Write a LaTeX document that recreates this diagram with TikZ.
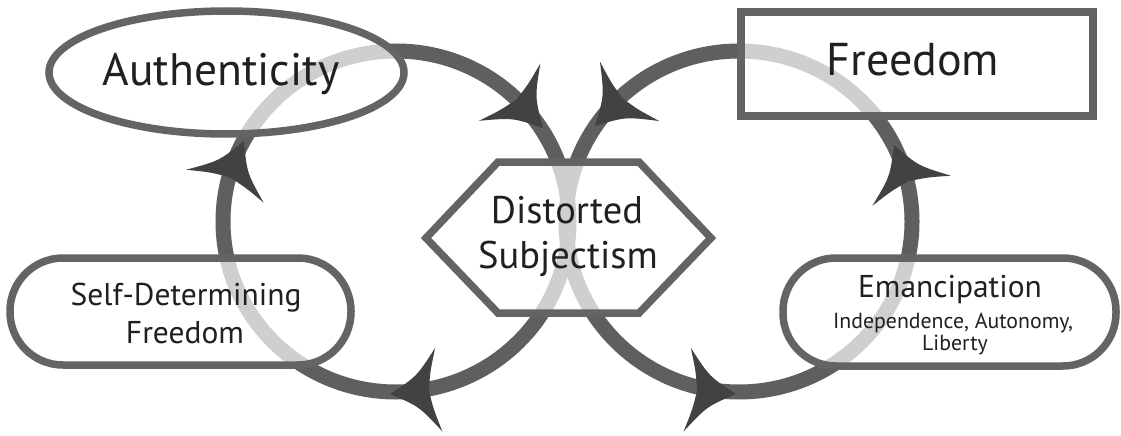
\documentclass[tikz,border=0pt]{standalone}
\usepackage{fontspec}
\setmainfont{PT Sans}
\usetikzlibrary{shapes.geometric}
\definecolor{circc}{RGB}{95,95,95}
\definecolor{arrowc}{RGB}{66,66,66}
\definecolor{borderc}{RGB}{100,100,100}
\definecolor{textc}{RGB}{35,31,32}
\newcommand\ahd[3]{\fill[arrowc, shift={(#1,#2)}, rotate=#3] (0,0) .. controls (-28,15) .. (-49,42) .. controls (-42,19) .. (-39,0) .. controls (-42,-19) .. (-49,-42) .. controls (-28,-15) .. (0,0) -- cycle;}
\begin{document}
\begin{tikzpicture}[x=1pt,y=-1pt,
  circ/.style={draw=circc, line width=15pt},
  nodebox/.style={draw=borderc, line width=7.5pt, fill=white, fill opacity=0.7, draw opacity=1, inner sep=0pt},
  txt/.style={text=textc, anchor=base, inner sep=0pt}]
\useasboundingbox[fill=white] (0,0) rectangle (1121,436);
% cycles
\draw[circ] (396,221.5) ellipse [x radius=173, y radius=170.5];
\draw[circ] (739,221.5) ellipse [x radius=173, y radius=170.5];
% arrowheads
\ahd{543}{128}{-47}
\ahd{244}{141}{67}
\ahd{390}{394}{-175}
\ahd{595}{126}{-135}
\ahd{894}{145}{111}
\ahd{736}{394}{-5}
% shapes
\node[nodebox, ellipse, minimum width=355pt, minimum height=123pt] (auth) at (226.5,72.5) {};
\node[nodebox, rectangle, minimum width=352pt, minimum height=104pt] (free) at (917,64) {};
\node[nodebox, rectangle, rounded corners=53pt, minimum width=341pt, minimum height=107pt] (self) at (180.5,311.5) {};
\node[nodebox, rectangle, rounded corners=53pt, minimum width=333pt, minimum height=108pt] (eman) at (949.5,312) {};
\draw[nodebox] (426,238) -- (498,162) -- (639,162) -- (711,238) -- (639,313) -- (498,313) -- cycle;
\coordinate (dist) at (568.5,238);
% texts
\node[txt, font=\fontsize{45.5}{50}\selectfont] (tauth) at (221,85) {Authenticity};
\node[txt, font=\fontsize{46}{50}\selectfont] (tfree) at (913,75) {Freedom};
\node[txt, font=\fontsize{38.5}{44}\selectfont] (tdist1) at (567,223) {Distorted};
\node[txt, font=\fontsize{38.5}{44}\selectfont] (tdist2) at (568,268) {Subjectism};
\node[txt, font=\fontsize{31.5}{34}\selectfont] (tself1) at (186,305) {Self-Determining};
\node[txt, font=\fontsize{31.5}{34}\selectfont] (tself2) at (185,343) {Freedom};
\node[txt, font=\fontsize{31.5}{36}\selectfont] (teman1) at (950,297) {Emancipation};
\node[txt, font=\fontsize{21.8}{26}\selectfont] (teman2) at (953,328) {Independence, Autonomy,};
\node[txt, font=\fontsize{21.8}{26}\selectfont] (teman3) at (955,350) {Liberty};
\end{tikzpicture}
\end{document}
